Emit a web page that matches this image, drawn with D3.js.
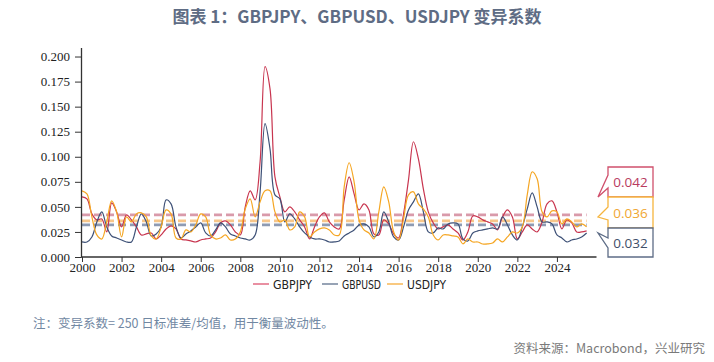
<!DOCTYPE html>
<html lang="zh">

<head>
  <meta charset="UTF-8">
  <title>GBPJPY、GBPUSD、USDJPY 变异系数</title>
  <style>
    html,
    body {
      margin: 0;
      width: 100%;
      height: 100%;
      overflow: hidden;
      background: #fff;
    }

    svg {
      display: block;
    }

    .tick-label {
      font-family: "Liberation Serif", "DejaVu Serif", serif;
      font-size: 13px;
      fill: #222;
    }
  </style>
</head>

<body>
  <div id="chart"></div>

  <script src="https://cdn.jsdelivr.net/npm/d3@7/dist/d3.min.js"></script>
  <script>
    // 季度数据，2000Q1 起，每 0.25 年一个点
    const startYear = 2000
    const step = 0.25

    const gbpjpy = [
      0.060, 0.058, 0.043, 0.037, 0.038, 0.025, 0.054, 0.045, 0.030, 0.042,
      0.037, 0.030, 0.022, 0.023, 0.024, 0.018, 0.022, 0.028, 0.031, 0.028,
      0.018, 0.017, 0.016, 0.015, 0.017, 0.018, 0.019, 0.025, 0.034, 0.036,
      0.032, 0.025, 0.022, 0.050, 0.066, 0.057, 0.095, 0.190, 0.168, 0.080,
      0.060, 0.045, 0.050, 0.045, 0.037, 0.030, 0.018, 0.030, 0.040, 0.044,
      0.035, 0.030, 0.028, 0.057, 0.080, 0.063, 0.047, 0.053, 0.047, 0.023,
      0.022, 0.037, 0.033, 0.023, 0.019, 0.043, 0.077, 0.115, 0.098, 0.068,
      0.045, 0.034, 0.028, 0.030, 0.032, 0.028, 0.024, 0.017, 0.025, 0.041,
      0.040, 0.037, 0.035, 0.033, 0.027, 0.040, 0.047, 0.040, 0.018, 0.025,
      0.032, 0.028, 0.025, 0.035, 0.053, 0.056, 0.045, 0.028, 0.037, 0.034,
      0.025, 0.025, 0.026
    ]

    const gbpusd = [
      0.015, 0.015, 0.020, 0.035, 0.045, 0.030, 0.021, 0.019, 0.017, 0.015,
      0.015, 0.030, 0.043, 0.035, 0.021, 0.023, 0.030, 0.057, 0.053, 0.030,
      0.019, 0.023, 0.026, 0.030, 0.034, 0.024, 0.021, 0.027, 0.034, 0.030,
      0.023, 0.021, 0.019, 0.018, 0.017, 0.022, 0.065, 0.133, 0.108, 0.062,
      0.058, 0.035, 0.043, 0.038, 0.030, 0.024, 0.020, 0.018, 0.018, 0.017,
      0.015, 0.015, 0.016, 0.021, 0.024, 0.027, 0.032, 0.033, 0.030, 0.020,
      0.025, 0.045, 0.035, 0.020, 0.017, 0.030, 0.047, 0.055, 0.063, 0.045,
      0.025, 0.024, 0.029, 0.028, 0.033, 0.034, 0.033, 0.018, 0.016, 0.024,
      0.026, 0.027, 0.028, 0.029, 0.028, 0.040, 0.032, 0.022, 0.017, 0.030,
      0.048, 0.064, 0.050, 0.035, 0.035, 0.033, 0.022, 0.019, 0.015, 0.017,
      0.018, 0.020, 0.024
    ]

    const usdjpy = [
      0.066, 0.063, 0.040, 0.022, 0.018, 0.035, 0.056, 0.045, 0.020, 0.040,
      0.035, 0.043, 0.044, 0.040, 0.021, 0.018, 0.030, 0.047, 0.043, 0.019,
      0.018, 0.027, 0.025, 0.032, 0.043, 0.040, 0.022, 0.018, 0.019, 0.022,
      0.017, 0.018, 0.025, 0.048, 0.058, 0.040, 0.055, 0.066, 0.066, 0.045,
      0.035, 0.037, 0.027, 0.030, 0.045, 0.040, 0.020, 0.025, 0.028, 0.029,
      0.027, 0.022, 0.022, 0.070, 0.094, 0.075, 0.037, 0.027, 0.024, 0.018,
      0.045, 0.070, 0.055, 0.025, 0.017, 0.038, 0.062, 0.065, 0.053, 0.048,
      0.040, 0.022, 0.017, 0.022, 0.022, 0.021, 0.020, 0.013, 0.018, 0.015,
      0.015, 0.013, 0.013, 0.014, 0.018, 0.015, 0.020, 0.025, 0.024, 0.030,
      0.062, 0.085, 0.078, 0.045, 0.040, 0.046, 0.045, 0.033, 0.038, 0.035,
      0.030, 0.033, 0.030
    ]

    const seriesNames = ['GBPJPY', 'GBPUSD', 'USDJPY']
    const seriesValues = [gbpjpy, gbpusd, usdjpy]
    const means = [0.042, 0.032, 0.036]
    const meanLabels = ['0.042', '0.036', '0.032']

    const yTicks = [0, 0.025, 0.05, 0.075, 0.1, 0.125, 0.15, 0.175, 0.2]
    const xTicks = [2000, 2002, 2004, 2006, 2008, 2010, 2012, 2014, 2016, 2018, 2020, 2022, 2024]

    const colors = ['#c8354f', '#3e5177', '#f5a623']
    const legendColors = ['#e0607a', '#6b7b96', '#f7b24a']
    const meanColors = ['#d99aaa', '#8e9bb3', '#f7c68a']

    const width = 714
    const height = 362
    const plot = { left: 81, right: 596.5, top: 47.5, bottom: 257 }

    const x = d3.scaleLinear()
      .domain([startYear, 2026])
      .range([82, plot.right])

    const y = d3.scaleLinear()
      .domain([0, 0.209])
      .range([plot.bottom, plot.top])

    const svg = d3.select('#chart').append('svg')
      .attr('width', width)
      .attr('height', height)
      .attr('viewBox', `0 0 ${width} ${height}`)

    // 标题
    svg.append('text')
      .attr('x', 357)
      .attr('y', 23)
      .attr('text-anchor', 'middle')
      .style('font-family', '"Noto Sans CJK SC", "Noto Sans", sans-serif')
      .style('font-size', '17px')
      .style('font-weight', 'bold')
      .style('fill', '#5e6c84')
      .text('图表 1：GBPJPY、GBPUSD、USDJPY 变异系数')

    // 均值虚线
    const lastYear = startYear + step * (gbpjpy.length - 1)
    svg.append('g')
      .selectAll('line')
      .data(means)
      .join('line')
      .attr('x1', x(startYear))
      .attr('x2', x(lastYear))
      .attr('y1', d => y(d))
      .attr('y2', d => y(d))
      .attr('stroke', (d, i) => meanColors[i])
      .attr('stroke-width', 2.6)
      .attr('stroke-dasharray', '8,4')

    // 折线
    const line = d3.line()
      .x((d, i) => x(startYear + i * step))
      .y(d => y(d))
      .curve(d3.curveCatmullRom.alpha(0.5))

    svg.append('g')
      .selectAll('path')
      .data(seriesValues)
      .join('path')
      .attr('d', line)
      .attr('fill', 'none')
      .attr('stroke', (d, i) => colors[i])
      .attr('stroke-width', 1.2)

    // 坐标轴
    const yAxis = svg.append('g')
      .attr('transform', `translate(${plot.left},0)`)
      .call(d3.axisLeft(y).tickValues(yTicks).tickFormat(d3.format('.3f')).tickSize(6).tickSizeOuter(0))
    yAxis.select('.domain').attr('stroke', '#333').attr('stroke-width', 1.3)
    yAxis.selectAll('.tick line').attr('stroke', '#333')
    yAxis.selectAll('.tick text').attr('class', 'tick-label').attr('x', -11)

    const xAxis = svg.append('g')
      .attr('transform', `translate(0,${plot.bottom})`)
      .call(d3.axisBottom(x).tickValues(xTicks).tickFormat(d3.format('d')).tickSize(5).tickSizeOuter(0))
    xAxis.select('.domain').attr('stroke', '#333').attr('stroke-width', 1.3)
      .attr('d', `M${plot.left},0H${plot.right}`)
    xAxis.selectAll('.tick line').attr('stroke', '#333')
    xAxis.selectAll('.tick text').attr('class', 'tick-label').attr('y', 6)

    // 图例
    const legendX = [253, 322, 387]
    const legend = svg.append('g')
      .selectAll('g')
      .data(seriesNames)
      .join('g')
      .attr('transform', (d, i) => `translate(${legendX[i]},284)`)
    legend.append('line')
      .attr('x1', 0)
      .attr('x2', 16)
      .attr('stroke', (d, i) => legendColors[i])
      .attr('stroke-width', 1.4)
    legend.append('text')
      .attr('x', 20)
      .attr('y', 4.5)
      .attr('textLength', 39)
      .attr('lengthAdjust', 'spacingAndGlyphs')
      .style('font-family', '"Liberation Sans Narrow", "DejaVu Sans Condensed", "Liberation Sans", sans-serif')
      .style('font-size', '12.5px')
      .style('fill', '#222')
      .text(d => d)

    // 右侧均值标注框
    const boxes = [
      { top: 167, bottom: 197, b1: 175, b2: 188, tip: 197, color: '#d0506c', text: '#b83b5e' },
      { top: 197, bottom: 228, b1: 207, b2: 220, tip: 217, color: '#f6b53e', text: '#f0a733' },
      { top: 228, bottom: 257, b1: 238, b2: 248, tip: 233, color: '#5d6c86', text: '#3f4f69' }
    ]
    const bx0 = 608
    const bx1 = 653
    const tipX = 598
    const callouts = svg.append('g')
      .selectAll('g')
      .data(boxes)
      .join('g')
    callouts.append('path')
      .attr('d', b => `M${bx0},${b.top}H${bx1}V${b.bottom}H${bx0}V${b.b2}L${tipX},${b.tip}L${bx0},${b.b1}Z`)
      .attr('fill', '#fff')
      .attr('stroke', b => b.color)
      .attr('stroke-width', 1.3)
    callouts.append('text')
      .attr('x', (bx0 + bx1) / 2)
      .attr('y', b => (b.top + b.bottom) / 2 + 5)
      .attr('text-anchor', 'middle')
      .style('font-family', '"Open Sans", "Noto Sans", sans-serif')
      .style('font-size', '13.5px')
      .style('fill', b => b.text)
      .text((b, i) => meanLabels[i])

    // 注释与来源
    svg.append('text')
      .attr('x', 33)
      .attr('y', 328)
      .style('font-family', '"Noto Sans CJK SC", sans-serif')
      .style('font-size', '12.5px')
      .style('fill', '#7188a3')
      .text('注：变异系数= 250 日标准差/均值，用于衡量波动性。')

    svg.append('text')
      .attr('x', 705)
      .attr('y', 353)
      .attr('text-anchor', 'end')
      .style('font-family', '"Noto Sans CJK SC", sans-serif')
      .style('font-size', '12.5px')
      .style('fill', '#7a7a7a')
      .text('资料来源：Macrobond，兴业研究')
  </script>
</body>

</html>
